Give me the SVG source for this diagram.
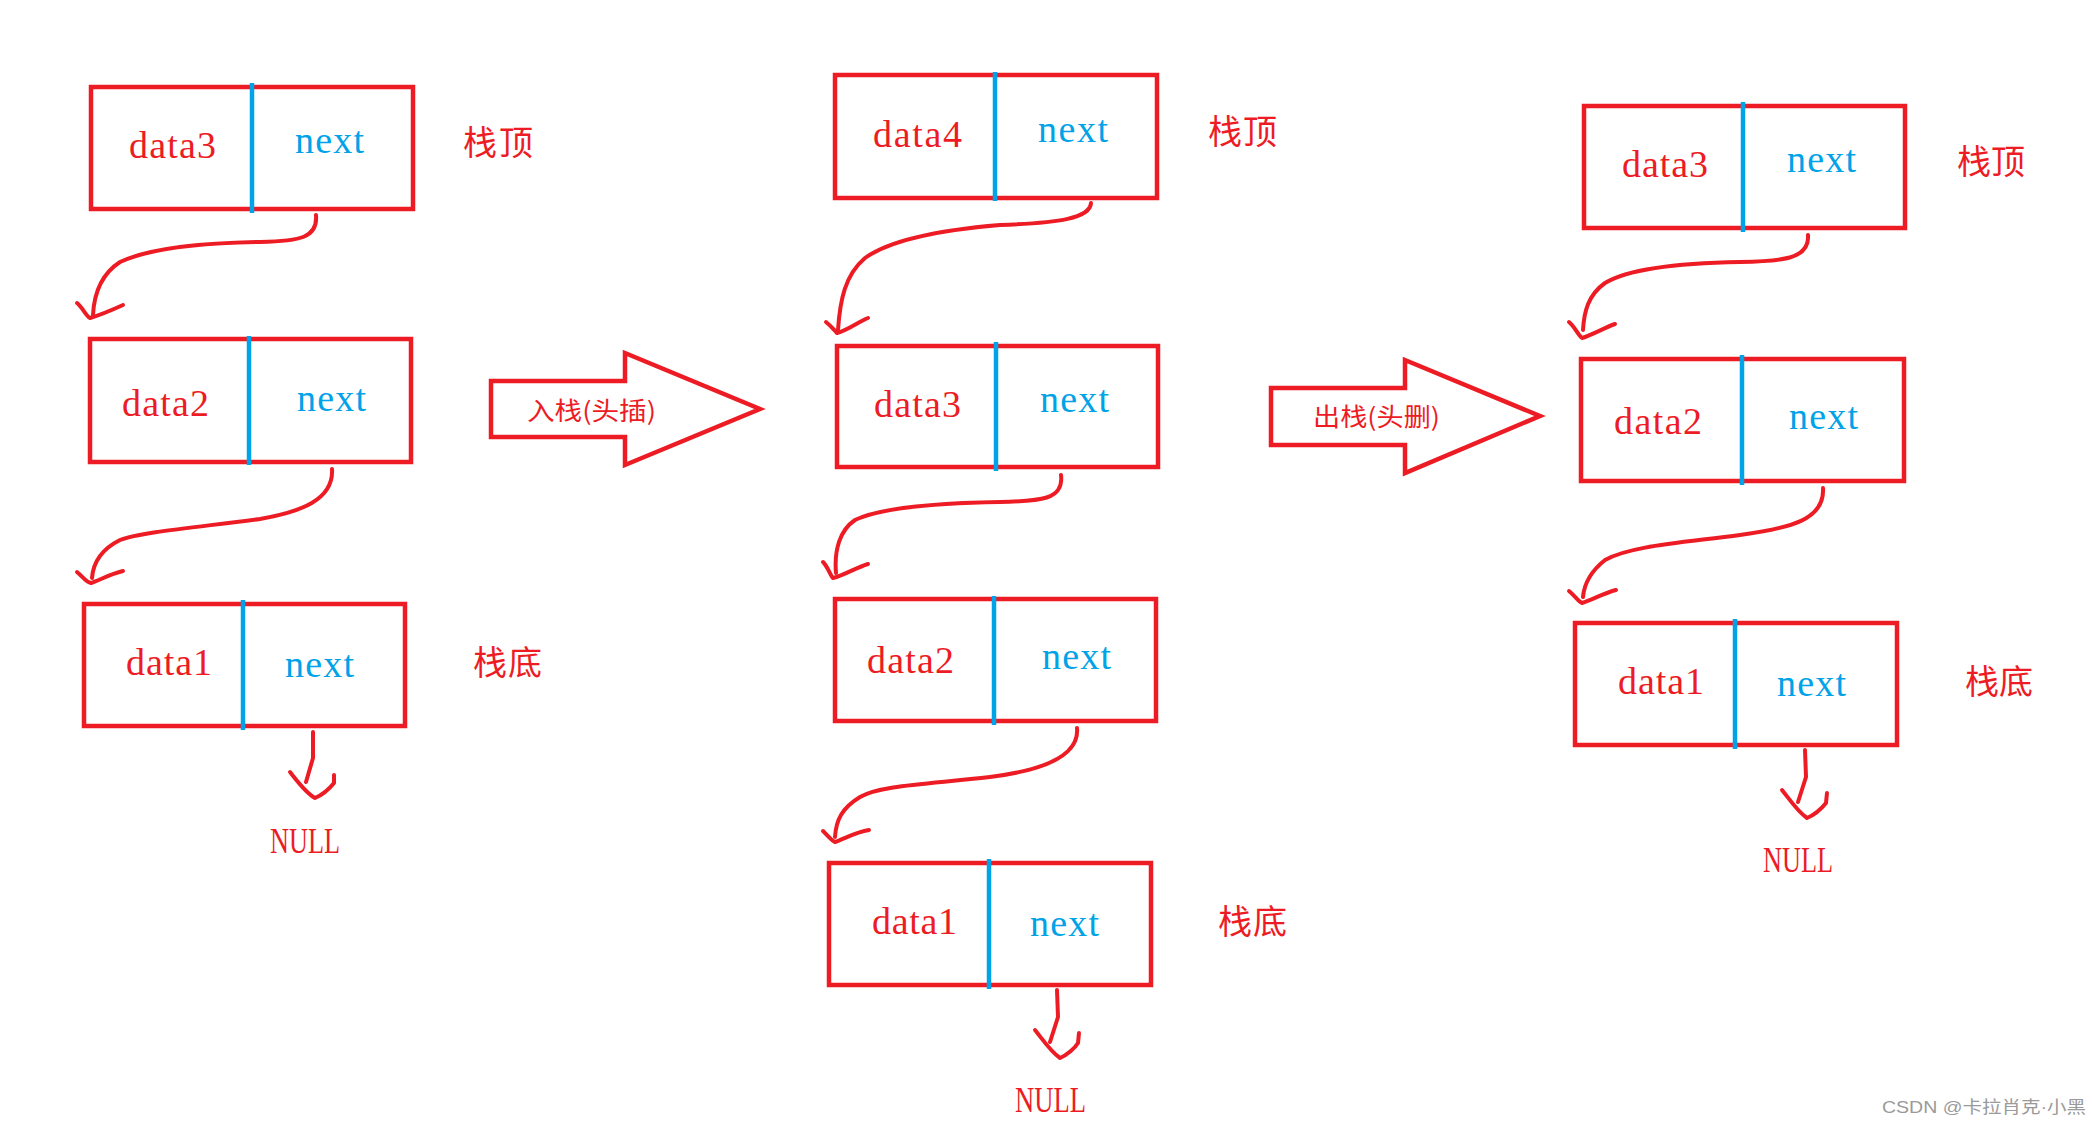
<svg xmlns="http://www.w3.org/2000/svg" width="2092" height="1129" viewBox="0 0 2092 1129">
<style>
.box{fill:none;stroke:#ed1c24;stroke-width:4.5}
.div{stroke:#00a2e8;stroke-width:4.5}
.dt{font-family:"Liberation Serif",serif;font-size:38px;fill:#ed1c24}
.nx{font-family:"Liberation Serif",serif;font-size:38px;fill:#00a2e8}
.cj{font-family:"Noto Sans CJK SC",sans-serif;font-size:34px;fill:#ed1c24}
.nl{font-family:"Liberation Serif",serif;font-size:36px;fill:#ed1c24}
.ln{fill:none;stroke:#ed1c24;stroke-width:4;stroke-linejoin:round;stroke-linecap:round}
.big{fill:#fff;stroke:#ed1c24;stroke-width:4.5;stroke-linejoin:miter}
.bt{font-family:"Noto Sans CJK SC",sans-serif;font-size:25px;fill:#ed1c24}
</style>
<rect width="2092" height="1129" fill="#fff"/>

<!-- Left column -->
<g id="L1">
<rect class="box" x="91" y="87" width="322" height="122"/>
<line class="div" x1="252" y1="83" x2="252" y2="213"/>
<text class="dt" x="129" y="158" textLength="87" lengthAdjust="spacing">data3</text>
<text class="nx" x="295" y="153" textLength="69" lengthAdjust="spacing">next</text>
</g>
<g id="L1-label"><text class="cj" x="463" y="155" textLength="70">栈顶</text></g>
<g id="L2">
<rect class="box" x="90" y="339" width="321" height="123"/>
<line class="div" x1="249" y1="336" x2="249" y2="465"/>
<text class="dt" x="122" y="416" textLength="87" lengthAdjust="spacing">data2</text>
<text class="nx" x="297" y="411" textLength="69" lengthAdjust="spacing">next</text>
</g>
<g id="L3">
<rect class="box" x="84" y="604" width="321" height="122"/>
<line class="div" x1="243" y1="600" x2="243" y2="730"/>
<text class="dt" x="126" y="675" textLength="86" lengthAdjust="spacing">data1</text>
<text class="nx" x="285" y="677" textLength="69" lengthAdjust="spacing">next</text>
</g>
<g id="L3-label"><text class="cj" x="473" y="675" textLength="69">栈底</text></g>
<g id="L-null"><text class="nl" x="270" y="853" textLength="70" lengthAdjust="spacingAndGlyphs">NULL</text></g>

<!-- Middle column -->
<g id="M1">
<rect class="box" x="835" y="75" width="322" height="123"/>
<line class="div" x1="995" y1="72" x2="995" y2="201"/>
<text class="dt" x="873" y="147" textLength="89" lengthAdjust="spacing">data4</text>
<text class="nx" x="1038" y="142" textLength="70" lengthAdjust="spacing">next</text>
</g>
<g id="M1-label"><text class="cj" x="1208" y="144" textLength="69">栈顶</text></g>
<g id="M2">
<rect class="box" x="837" y="346" width="321" height="121"/>
<line class="div" x1="996" y1="342" x2="996" y2="471"/>
<text class="dt" x="874" y="417" textLength="87" lengthAdjust="spacing">data3</text>
<text class="nx" x="1040" y="412" textLength="69" lengthAdjust="spacing">next</text>
</g>
<g id="M3">
<rect class="box" x="835" y="599" width="321" height="122"/>
<line class="div" x1="994" y1="596" x2="994" y2="725"/>
<text class="dt" x="867" y="673" textLength="87" lengthAdjust="spacing">data2</text>
<text class="nx" x="1042" y="669" textLength="69" lengthAdjust="spacing">next</text>
</g>
<g id="M4">
<rect class="box" x="829" y="863" width="322" height="122"/>
<line class="div" x1="989" y1="859" x2="989" y2="989"/>
<text class="dt" x="872" y="934" textLength="85" lengthAdjust="spacing">data1</text>
<text class="nx" x="1030" y="936" textLength="69" lengthAdjust="spacing">next</text>
</g>
<g id="M4-label"><text class="cj" x="1218" y="934" textLength="69">栈底</text></g>
<g id="M-null"><text class="nl" x="1015" y="1112" textLength="71" lengthAdjust="spacingAndGlyphs">NULL</text></g>

<!-- Right column -->
<g id="R1">
<rect class="box" x="1584" y="106" width="321" height="122"/>
<line class="div" x1="1743" y1="102" x2="1743" y2="232"/>
<text class="dt" x="1622" y="177" textLength="86" lengthAdjust="spacing">data3</text>
<text class="nx" x="1787" y="172" textLength="69" lengthAdjust="spacing">next</text>
</g>
<g id="R1-label"><text class="cj" x="1957" y="174" textLength="68">栈顶</text></g>
<g id="R2">
<rect class="box" x="1581" y="359" width="323" height="122"/>
<line class="div" x1="1742" y1="355" x2="1742" y2="485"/>
<text class="dt" x="1614" y="434" textLength="88" lengthAdjust="spacing">data2</text>
<text class="nx" x="1789" y="429" textLength="69" lengthAdjust="spacing">next</text>
</g>
<g id="R3">
<rect class="box" x="1575" y="623" width="322" height="122"/>
<line class="div" x1="1735" y1="619" x2="1735" y2="749"/>
<text class="dt" x="1618" y="694" textLength="86" lengthAdjust="spacing">data1</text>
<text class="nx" x="1777" y="696" textLength="69" lengthAdjust="spacing">next</text>
</g>
<g id="R3-label"><text class="cj" x="1965" y="694" textLength="68">栈底</text></g>
<g id="R-null"><text class="nl" x="1763" y="872" textLength="70" lengthAdjust="spacingAndGlyphs">NULL</text></g>

<!-- Big arrows -->
<g id="push">
<polygon class="big" points="491,381 625,381 625,353 760,409 625,465 625,437 491,437"/>
<text class="bt" x="527" y="420" textLength="129" lengthAdjust="spacingAndGlyphs">入栈(头插)</text>
</g>
<g id="pop">
<polygon class="big" points="1271,388 1405,388 1405,360 1540,416 1405,473 1405,445 1271,445"/>
<text class="bt" x="1313" y="426" textLength="127" lengthAdjust="spacingAndGlyphs">出栈(头删)</text>
</g>

<!-- Connectors -->
<g id="connectors">
<path class="ln" d="M316,215 C318,238 300,241 260,242 C200,243 150,248 120,262 C100,275 94,295 93,315"/>
<path class="ln" d="M77,303 C83,308 86,316 90,318 C100,315 112,310 123,305"/>
<path class="ln" d="M332,469 C334,500 300,512 260,519 C200,527 140,532 120,540 C100,550 93,565 92,578"/>
<path class="ln" d="M77,572 C83,577 86,582 91,583 C100,580 110,574 123,571"/>
<path class="ln" d="M313,732 L313,758 L306,782"/>
<path class="ln" d="M290,772 C298,782 306,793 315,798 C322,795 330,788 334,783 L334,775"/>

<path class="ln" d="M1091,203 C1090,218 1060,223 1000,225 C940,230 890,240 865,258 C845,275 840,300 838,330"/>
<path class="ln" d="M826,322 C831,326 834,330 837,333 C848,330 858,322 868,318"/>
<path class="ln" d="M1061,475 C1064,500 1040,501 1000,502 C940,503 880,508 855,520 C840,530 834,550 836,573"/>
<path class="ln" d="M823,562 C828,567 830,575 833,578 C845,575 855,568 868,564"/>
<path class="ln" d="M1077,728 C1080,760 1030,772 990,777 C930,784 880,785 860,797 C842,808 836,820 835,837"/>
<path class="ln" d="M823,831 C828,836 832,841 835,842 C846,838 856,832 869,830"/>
<path class="ln" d="M1057,990 L1058,1017 L1050,1042"/>
<path class="ln" d="M1035,1030 C1043,1040 1051,1052 1060,1058 C1067,1055 1075,1048 1078,1043 L1079,1033"/>

<path class="ln" d="M1808,235 C1810,260 1780,261 1740,262 C1680,263 1630,268 1605,283 C1588,295 1584,312 1583,330"/>
<path class="ln" d="M1569,322 C1575,327 1578,335 1582,338 C1592,335 1604,328 1615,324"/>
<path class="ln" d="M1823,488 C1825,520 1790,528 1740,535 C1680,543 1630,546 1605,560 C1590,572 1584,585 1583,597"/>
<path class="ln" d="M1569,591 C1575,596 1578,601 1582,603 C1592,600 1604,593 1616,590"/>
<path class="ln" d="M1805,750 L1806,777 L1798,802"/>
<path class="ln" d="M1782,790 C1790,800 1798,812 1807,818 C1814,815 1822,808 1826,803 L1827,793"/>
</g>

<g id="watermark"><text x="1882" y="1113" font-family="Liberation Sans, 'Noto Sans CJK SC', sans-serif" font-size="17" fill="#9a9a9a" textLength="204" lengthAdjust="spacingAndGlyphs">CSDN @卡拉肖克·小黑</text></g>
</svg>
